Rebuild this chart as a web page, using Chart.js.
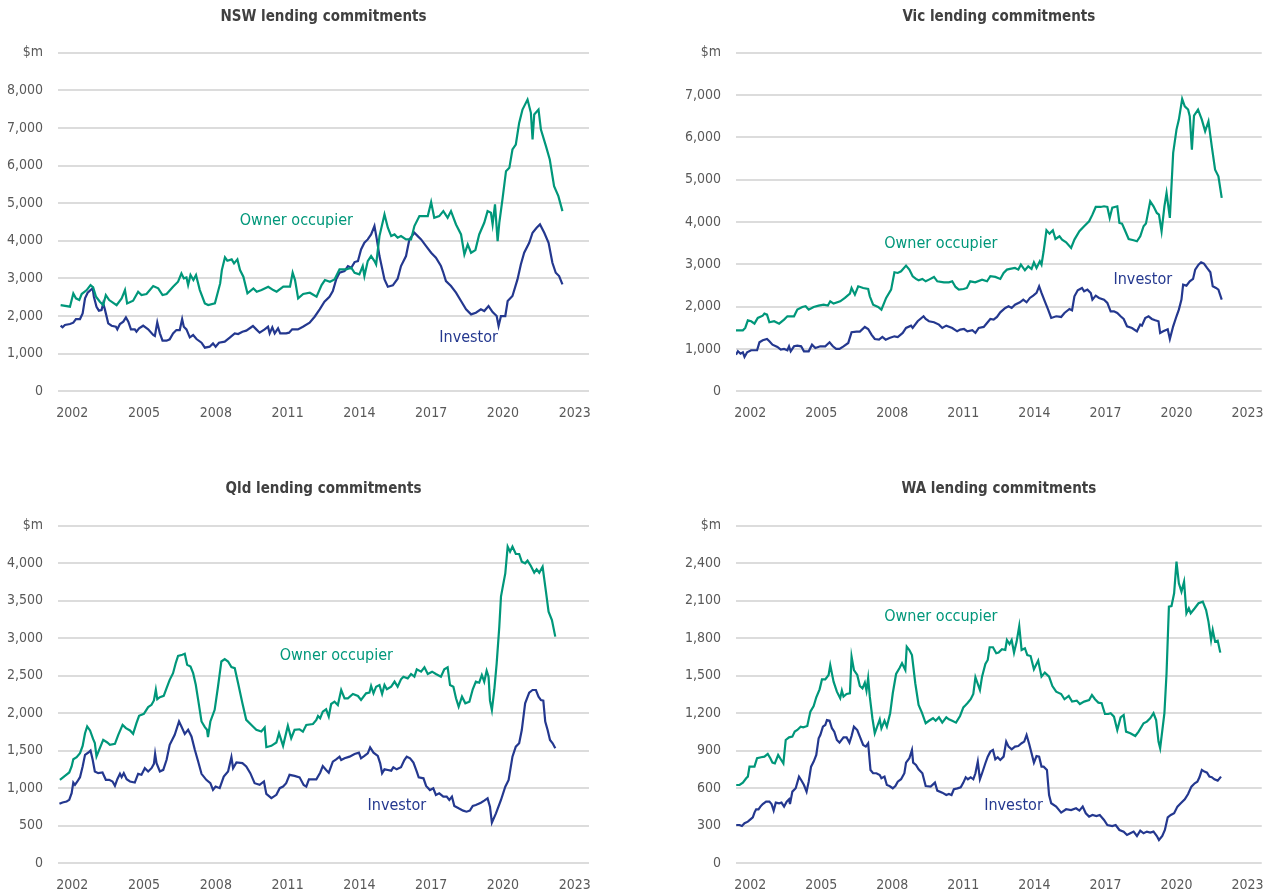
<!DOCTYPE html>
<html><head><meta charset="utf-8">
<script src="https://cdn.jsdelivr.net/npm/chart.js@4.4.0/dist/chart.umd.min.js"></script>
<style>
html,body{margin:0;padding:0;background:#fff;width:1278px;height:894px;overflow:hidden}
.box{position:absolute;width:639px;height:447px}
</style></head><body>
<div class="box" style="left:0;top:0"><canvas id="nsw"></canvas></div>
<div class="box" style="left:639px;top:0"><canvas id="vic"></canvas></div>
<div class="box" style="left:0;top:447px"><canvas id="qld"></canvas></div>
<div class="box" style="left:639px;top:447px"><canvas id="wa"></canvas></div>
<script>
const xTicks = [2002, 2005, 2008, 2011, 2014, 2017, 2020, 2023];

const nswOwnerYears = [2001.51,2001.90,2002.04,2002.15,2002.29,2002.39,2002.60,2002.76,2002.87,2002.99,2003.15,2003.29,2003.40,2003.54,2003.85,2004.06,2004.20,2004.29,2004.54,2004.75,2004.89,2005.10,2005.38,2005.59,2005.77,2005.94,2006.21,2006.42,2006.56,2006.66,2006.77,2006.84,2006.94,2007.06,2007.17,2007.33,2007.54,2007.68,2007.96,2008.18,2008.25,2008.38,2008.48,2008.66,2008.76,2008.90,2009.01,2009.15,2009.32,2009.57,2009.71,2009.91,2010.19,2010.40,2010.54,2010.82,2011.10,2011.21,2011.31,2011.44,2011.65,2011.93,2012.21,2012.42,2012.56,2012.77,2012.96,2013.17,2013.45,2013.66,2013.80,2014.00,2014.14,2014.21,2014.35,2014.49,2014.63,2014.70,2014.84,2015.05,2015.19,2015.33,2015.47,2015.60,2015.74,2015.95,2016.16,2016.30,2016.51,2016.72,2016.86,2017.00,2017.13,2017.34,2017.51,2017.69,2017.83,2018.04,2018.25,2018.39,2018.53,2018.67,2018.85,2019.01,2019.22,2019.36,2019.50,2019.57,2019.67,2019.78,2019.85,2019.99,2020.13,2020.27,2020.40,2020.54,2020.68,2020.82,2021.03,2021.17,2021.24,2021.31,2021.49,2021.59,2021.80,2021.96,2022.14,2022.32,2022.49];
const nswOwnerValues = [2292,2248,2600,2470,2425,2585,2690,2823,2760,2513,2380,2290,2557,2425,2290,2470,2690,2336,2407,2646,2557,2585,2797,2735,2557,2585,2779,2912,3133,3000,3027,2823,3089,2956,3089,2690,2336,2292,2336,2867,3221,3558,3469,3505,3398,3505,3221,3044,2602,2735,2646,2690,2779,2690,2646,2779,2779,3150,2956,2470,2585,2620,2513,2823,2956,2912,2974,3239,3239,3283,3150,3106,3328,3062,3460,3593,3460,3372,4124,4699,4345,4124,4168,4080,4124,4036,4036,4390,4655,4655,4655,5027,4611,4655,4788,4611,4788,4434,4168,3637,3903,3681,3752,4168,4478,4788,4743,4434,4965,3991,4478,5142,5850,5938,6425,6558,7133,7487,7753,7399,6690,7355,7487,6956,6514,6160,5452,5186,4788];

const nswInvestorYears = [2001.51,2001.59,2001.69,2001.90,2002.04,2002.15,2002.32,2002.43,2002.53,2002.64,2002.76,2002.85,2002.90,2003.01,2003.11,2003.22,2003.29,2003.36,2003.50,2003.64,2003.82,2003.88,2003.99,2004.13,2004.24,2004.34,2004.45,2004.61,2004.68,2004.79,2004.96,2005.17,2005.38,2005.45,2005.55,2005.66,2005.77,2005.94,2006.07,2006.21,2006.35,2006.49,2006.59,2006.66,2006.77,2006.91,2007.05,2007.19,2007.40,2007.54,2007.74,2007.88,2007.99,2008.13,2008.37,2008.58,2008.79,2008.93,2009.11,2009.27,2009.55,2009.69,2009.83,2010.04,2010.18,2010.25,2010.36,2010.46,2010.60,2010.69,2010.94,2011.06,2011.19,2011.43,2011.64,2011.92,2012.13,2012.34,2012.54,2012.75,2012.89,2013.03,2013.17,2013.38,2013.52,2013.66,2013.80,2013.94,2014.07,2014.21,2014.35,2014.49,2014.63,2014.73,2014.84,2015.05,2015.19,2015.40,2015.60,2015.74,2015.95,2016.09,2016.30,2016.44,2016.58,2016.79,2017.00,2017.20,2017.41,2017.51,2017.62,2017.83,2018.04,2018.25,2018.46,2018.67,2018.87,2019.08,2019.22,2019.40,2019.57,2019.74,2019.82,2019.92,2020.10,2020.20,2020.40,2020.61,2020.75,2020.89,2021.10,2021.24,2021.41,2021.55,2021.73,2021.91,2022.07,2022.21,2022.35,2022.49];
const nswInvestorValues = [1743,1699,1761,1788,1823,1920,1920,2071,2469,2620,2690,2735,2513,2248,2142,2159,2336,2177,1805,1743,1717,1646,1788,1850,1965,1850,1646,1646,1584,1673,1743,1646,1496,1469,1832,1540,1345,1345,1381,1540,1628,1628,1920,1717,1646,1434,1496,1389,1292,1159,1186,1274,1186,1292,1319,1425,1540,1522,1584,1611,1735,1646,1558,1646,1717,1540,1699,1540,1673,1540,1540,1558,1646,1646,1717,1823,1982,2177,2380,2513,2664,2974,3150,3195,3328,3283,3434,3460,3770,3947,4036,4168,4390,4036,3593,2974,2779,2814,2991,3328,3593,4036,4213,4124,4036,3858,3681,3549,3328,3150,2929,2797,2620,2398,2177,2044,2089,2177,2133,2266,2106,2000,1735,2000,2000,2398,2531,2974,3372,3681,3947,4213,4345,4434,4213,3947,3416,3150,3062,2841];

const vicOwnerYears = [2001.40,2001.69,2001.79,2001.90,2002.04,2002.18,2002.32,2002.53,2002.60,2002.71,2002.81,2003.01,2003.22,2003.43,2003.57,2003.85,2003.99,2004.20,2004.34,2004.47,2004.68,2004.89,2005.10,2005.28,2005.38,2005.52,2005.80,2006.00,2006.21,2006.28,2006.42,2006.56,2006.77,2006.98,2007.05,2007.19,2007.40,2007.54,2007.74,2007.95,2008.09,2008.23,2008.37,2008.58,2008.72,2008.86,2009.00,2009.11,2009.27,2009.41,2009.55,2009.76,2009.90,2010.18,2010.39,2010.53,2010.67,2010.81,2011.01,2011.15,2011.29,2011.50,2011.79,2012.00,2012.14,2012.35,2012.56,2012.70,2012.84,2012.97,2013.18,2013.32,2013.43,2013.60,2013.74,2013.88,2013.98,2014.09,2014.23,2014.30,2014.39,2014.51,2014.64,2014.78,2014.89,2015.06,2015.17,2015.34,2015.55,2015.69,2015.90,2016.10,2016.31,2016.45,2016.59,2016.80,2016.94,2017.08,2017.18,2017.29,2017.50,2017.59,2017.70,2017.84,2017.98,2018.19,2018.33,2018.47,2018.61,2018.71,2018.89,2019.03,2019.17,2019.26,2019.37,2019.49,2019.58,2019.72,2019.86,2020.00,2020.10,2020.24,2020.35,2020.49,2020.56,2020.65,2020.74,2020.91,2021.07,2021.21,2021.35,2021.49,2021.63,2021.77,2021.91];
const vicOwnerValues = [1441,1441,1496,1677,1654,1598,1732,1787,1835,1811,1630,1654,1598,1693,1772,1772,1929,1992,2008,1929,1992,2024,2047,2024,2126,2071,2126,2205,2307,2441,2283,2480,2441,2417,2244,2047,1992,1929,2205,2402,2811,2795,2835,2969,2874,2717,2654,2622,2654,2598,2638,2701,2598,2575,2575,2598,2465,2402,2417,2441,2598,2575,2638,2598,2717,2701,2654,2795,2874,2890,2913,2874,2992,2858,2953,2890,3047,2913,3071,2992,3307,3803,3724,3803,3598,3661,3583,3520,3386,3583,3780,3898,4016,4173,4354,4354,4370,4354,4094,4339,4370,3976,3961,3780,3598,3567,3543,3661,3898,3961,4488,4370,4213,4173,3780,4370,4685,4094,5630,6181,6417,6906,6732,6654,6496,5709,6512,6654,6417,6142,6378,5787,5236,5079,4567];

const vicInvestorYears = [2001.40,2001.48,2001.59,2001.69,2001.76,2001.87,2002.04,2002.29,2002.39,2002.53,2002.71,2002.81,2002.94,2003.15,2003.29,2003.43,2003.57,2003.64,2003.71,2003.85,2003.99,2004.15,2004.27,2004.47,2004.61,2004.75,2004.96,2005.17,2005.35,2005.49,2005.63,2005.77,2005.94,2006.14,2006.28,2006.49,2006.63,2006.84,2006.98,2007.12,2007.26,2007.44,2007.58,2007.72,2007.88,2008.09,2008.23,2008.44,2008.58,2008.79,2008.86,2009.07,2009.32,2009.41,2009.55,2009.76,2009.97,2010.11,2010.28,2010.53,2010.74,2010.87,2011.03,2011.17,2011.38,2011.51,2011.65,2011.86,2012.00,2012.14,2012.28,2012.42,2012.56,2012.77,2012.91,2013.04,2013.18,2013.39,2013.53,2013.67,2013.81,2013.95,2014.09,2014.20,2014.30,2014.44,2014.58,2014.71,2014.92,2015.13,2015.27,2015.48,2015.59,2015.69,2015.83,2016.01,2016.10,2016.24,2016.38,2016.45,2016.59,2016.73,2016.94,2017.08,2017.22,2017.36,2017.50,2017.64,2017.77,2017.91,2018.12,2018.33,2018.47,2018.54,2018.68,2018.82,2018.96,2019.10,2019.24,2019.31,2019.44,2019.63,2019.72,2019.86,2020.00,2020.10,2020.21,2020.28,2020.42,2020.56,2020.70,2020.79,2020.93,2021.04,2021.16,2021.29,2021.43,2021.53,2021.67,2021.77,2021.91];
const vicInvestorValues = [866,945,890,921,811,921,969,969,1157,1205,1236,1181,1102,1047,984,1000,969,1063,945,1063,1079,1063,945,945,1102,1024,1063,1063,1157,1063,1000,1000,1063,1142,1394,1409,1409,1520,1472,1339,1236,1220,1283,1220,1260,1299,1283,1378,1496,1551,1496,1654,1772,1709,1654,1630,1575,1496,1551,1496,1417,1457,1472,1417,1441,1378,1496,1520,1614,1709,1693,1756,1866,1969,2008,1969,2047,2102,2165,2102,2205,2260,2323,2480,2323,2126,1929,1732,1772,1756,1850,1945,1913,2244,2386,2441,2362,2402,2323,2165,2260,2205,2165,2087,1890,1890,1850,1772,1709,1535,1496,1417,1575,1551,1732,1772,1709,1677,1654,1378,1417,1465,1236,1535,1772,1929,2165,2520,2496,2598,2654,2874,2992,3047,3016,2913,2811,2480,2441,2402,2165];

const qldOwnerYears = [2001.48,2001.69,2001.87,2001.97,2002.04,2002.18,2002.32,2002.43,2002.53,2002.62,2002.74,2002.87,2002.94,2003.01,2003.15,2003.29,2003.46,2003.57,2003.78,2003.92,2004.10,2004.24,2004.41,2004.54,2004.68,2004.79,2004.99,2005.17,2005.31,2005.41,2005.49,2005.55,2005.66,2005.82,2005.94,2006.07,2006.21,2006.32,2006.42,2006.60,2006.70,2006.80,2006.94,2007.05,2007.16,2007.26,2007.40,2007.54,2007.63,2007.67,2007.77,2007.95,2008.09,2008.23,2008.37,2008.51,2008.65,2008.79,2008.93,2009.11,2009.27,2009.55,2009.69,2009.90,2010.04,2010.11,2010.32,2010.53,2010.64,2010.81,2011.01,2011.15,2011.29,2011.50,2011.64,2011.78,2012.06,2012.20,2012.27,2012.36,2012.47,2012.61,2012.72,2012.82,2012.96,2013.10,2013.24,2013.38,2013.52,2013.73,2013.94,2014.07,2014.28,2014.42,2014.49,2014.59,2014.70,2014.84,2014.95,2015.05,2015.15,2015.33,2015.47,2015.60,2015.74,2015.84,2016.02,2016.16,2016.30,2016.40,2016.58,2016.72,2016.86,2017.04,2017.20,2017.41,2017.55,2017.69,2017.79,2017.93,2018.04,2018.15,2018.29,2018.43,2018.60,2018.74,2018.87,2019.01,2019.12,2019.22,2019.32,2019.40,2019.46,2019.54,2019.64,2019.74,2019.85,2019.92,2019.99,2020.10,2020.20,2020.30,2020.40,2020.54,2020.68,2020.79,2020.93,2021.03,2021.17,2021.31,2021.41,2021.52,2021.66,2021.80,2021.91,2022.05,2022.19];
const qldOwnerValues = [1109,1162,1207,1287,1384,1411,1464,1562,1731,1820,1767,1651,1598,1420,1531,1642,1607,1576,1589,1709,1842,1798,1767,1722,1864,1962,1989,2078,2109,2167,2309,2184,2211,2229,2331,2442,2531,2664,2762,2776,2789,2642,2620,2531,2376,2176,1887,1811,1776,1678,1887,2042,2353,2687,2718,2687,2611,2598,2398,2131,1909,1820,1776,1753,1807,1544,1562,1607,1731,1562,1829,1664,1776,1783,1751,1840,1853,1907,1960,1929,2018,2049,1951,2120,2151,2107,2307,2196,2196,2253,2227,2173,2262,2271,2360,2262,2351,2373,2253,2373,2316,2351,2418,2351,2449,2484,2462,2520,2484,2582,2551,2609,2520,2551,2520,2484,2582,2609,2373,2351,2196,2084,2218,2129,2151,2316,2418,2404,2507,2418,2564,2484,2165,2040,2307,2662,3151,3551,3675,3862,4218,4151,4218,4120,4120,4018,3996,4031,3960,3871,3916,3871,3951,3618,3351,3240,3018];

const qldInvestorYears = [2001.46,2001.59,2001.76,2001.87,2001.97,2002.04,2002.11,2002.21,2002.32,2002.43,2002.53,2002.67,2002.76,2002.85,2002.94,2003.08,2003.26,2003.40,2003.54,2003.68,2003.78,2003.88,2003.99,2004.06,2004.15,2004.27,2004.41,2004.61,2004.75,2004.89,2005.03,2005.17,2005.31,2005.41,2005.46,2005.52,2005.66,2005.80,2005.94,2006.07,2006.28,2006.46,2006.56,2006.70,2006.84,2006.98,2007.12,2007.26,2007.40,2007.60,2007.77,2007.88,2007.99,2008.16,2008.33,2008.51,2008.65,2008.72,2008.86,2009.11,2009.27,2009.44,2009.62,2009.83,2010.01,2010.11,2010.32,2010.53,2010.67,2010.81,2010.94,2011.08,2011.29,2011.50,2011.67,2011.78,2011.89,2012.20,2012.36,2012.47,2012.61,2012.72,2012.89,2013.03,2013.17,2013.24,2013.38,2013.59,2013.80,2013.98,2014.07,2014.21,2014.35,2014.45,2014.59,2014.77,2014.87,2014.95,2015.05,2015.19,2015.33,2015.42,2015.56,2015.74,2015.88,2015.98,2016.12,2016.26,2016.40,2016.48,2016.68,2016.79,2016.95,2017.09,2017.20,2017.34,2017.51,2017.65,2017.76,2017.87,2017.97,2018.15,2018.34,2018.48,2018.62,2018.74,2018.87,2019.08,2019.22,2019.36,2019.46,2019.54,2019.71,2019.92,2020.10,2020.24,2020.40,2020.54,2020.68,2020.79,2020.93,2021.10,2021.24,2021.38,2021.49,2021.59,2021.69,2021.77,2021.87,2021.97,2022.08,2022.19];
const qldInvestorValues = [789,807,820,842,931,1073,1042,1087,1144,1287,1442,1473,1500,1376,1220,1198,1207,1109,1109,1087,1029,1118,1189,1144,1198,1118,1087,1073,1189,1176,1264,1220,1264,1322,1456,1331,1220,1242,1376,1576,1709,1887,1820,1722,1776,1687,1509,1353,1189,1109,1064,976,1020,998,1153,1220,1411,1264,1340,1331,1287,1198,1064,1042,1087,922,864,909,998,1020,1064,1176,1162,1142,1040,1018,1116,1116,1204,1293,1240,1204,1351,1382,1418,1373,1396,1418,1453,1471,1396,1427,1462,1542,1471,1427,1329,1196,1249,1240,1231,1276,1249,1276,1373,1418,1396,1338,1218,1142,1129,1027,973,996,907,929,885,885,840,885,760,729,698,684,698,760,773,804,831,862,751,538,662,840,1018,1107,1418,1551,1596,1773,2129,2271,2307,2307,2218,2173,2165,1885,1773,1640,1596,1529];

const waOwnerYears = [2001.41,2001.55,2001.69,2001.83,2001.90,2001.97,2002.18,2002.29,2002.46,2002.60,2002.74,2002.85,2002.94,2003.04,2003.18,2003.29,2003.40,2003.50,2003.64,2003.78,2003.88,2003.99,2004.13,2004.24,2004.41,2004.54,2004.68,2004.79,2004.93,2005.03,2005.17,2005.31,2005.38,2005.52,2005.66,2005.80,2005.87,2005.94,2006.07,2006.21,2006.28,2006.38,2006.52,2006.63,2006.74,2006.84,2006.91,2006.98,2007.05,2007.16,2007.26,2007.40,2007.47,2007.54,2007.67,2007.77,2007.91,2008.02,2008.16,2008.30,2008.41,2008.55,2008.61,2008.72,2008.83,2008.97,2009.11,2009.25,2009.41,2009.55,2009.72,2009.83,2009.97,2010.11,2010.28,2010.39,2010.53,2010.69,2010.86,2011.00,2011.10,2011.17,2011.31,2011.42,2011.51,2011.70,2011.79,2011.93,2012.03,2012.11,2012.25,2012.39,2012.49,2012.63,2012.77,2012.84,2012.95,2013.04,2013.14,2013.25,2013.36,2013.46,2013.60,2013.70,2013.84,2013.98,2014.16,2014.30,2014.44,2014.62,2014.76,2014.92,2015.13,2015.27,2015.45,2015.59,2015.79,2015.92,2016.10,2016.31,2016.43,2016.56,2016.70,2016.84,2016.98,2017.12,2017.22,2017.36,2017.50,2017.64,2017.77,2017.87,2018.05,2018.26,2018.40,2018.61,2018.75,2018.89,2019.03,2019.14,2019.24,2019.31,2019.49,2019.58,2019.68,2019.79,2019.90,2020.00,2020.10,2020.21,2020.32,2020.42,2020.52,2020.60,2020.77,2020.93,2021.11,2021.25,2021.35,2021.46,2021.53,2021.63,2021.74,2021.85];
const waOwnerValues = [624,624,643,678,691,771,771,838,846,851,872,838,803,797,864,830,797,984,1005,1011,1051,1064,1091,1085,1096,1211,1256,1326,1389,1469,1469,1504,1584,1451,1371,1318,1379,1331,1352,1358,1651,1544,1504,1416,1397,1443,1379,1478,1331,1158,1038,1112,1149,1077,1138,1091,1198,1358,1512,1558,1598,1544,1731,1704,1664,1438,1264,1203,1118,1138,1158,1138,1165,1123,1165,1149,1138,1123,1176,1245,1264,1278,1310,1352,1486,1384,1491,1592,1624,1726,1726,1678,1683,1710,1704,1784,1752,1784,1683,1771,1896,1704,1718,1664,1656,1550,1619,1491,1523,1491,1416,1371,1352,1310,1336,1291,1299,1272,1291,1304,1344,1310,1283,1278,1192,1192,1198,1171,1064,1165,1184,1051,1038,1016,1051,1118,1131,1158,1198,1144,971,918,1198,1518,2051,2056,2158,2411,2238,2171,2251,1998,2038,1998,2038,2078,2091,2024,1931,1784,1864,1771,1779,1683];

const waInvestorYears = [2001.41,2001.55,2001.65,2001.76,2001.90,2002.01,2002.11,2002.18,2002.25,2002.35,2002.43,2002.53,2002.67,2002.81,2002.90,2002.99,2003.08,2003.22,2003.32,2003.43,2003.54,2003.64,2003.68,2003.78,2003.92,2004.06,2004.15,2004.27,2004.38,2004.47,2004.57,2004.68,2004.79,2004.89,2004.96,2005.07,2005.17,2005.24,2005.35,2005.45,2005.55,2005.66,2005.77,2005.94,2006.07,2006.19,2006.28,2006.38,2006.52,2006.63,2006.77,2006.88,2006.98,2007.08,2007.19,2007.33,2007.47,2007.54,2007.67,2007.77,2007.88,2008.02,2008.13,2008.23,2008.37,2008.51,2008.58,2008.72,2008.83,2008.88,2009.00,2009.11,2009.27,2009.41,2009.62,2009.80,2009.90,2010.11,2010.28,2010.39,2010.50,2010.60,2010.75,2010.89,2011.00,2011.10,2011.19,2011.31,2011.42,2011.51,2011.61,2011.70,2011.79,2011.93,2012.03,2012.14,2012.25,2012.35,2012.45,2012.56,2012.70,2012.81,2012.91,2013.04,2013.18,2013.32,2013.46,2013.57,2013.67,2013.78,2013.88,2013.98,2014.09,2014.20,2014.30,2014.39,2014.53,2014.62,2014.71,2014.92,2015.13,2015.34,2015.55,2015.76,2015.90,2016.04,2016.17,2016.31,2016.45,2016.62,2016.76,2016.94,2017.08,2017.29,2017.43,2017.59,2017.77,2017.91,2018.05,2018.19,2018.33,2018.47,2018.61,2018.75,2018.89,2019.03,2019.17,2019.26,2019.40,2019.51,2019.63,2019.76,2019.90,2020.04,2020.18,2020.35,2020.49,2020.63,2020.77,2020.88,2020.97,2021.07,2021.18,2021.29,2021.39,2021.49,2021.60,2021.74,2021.88];
const waInvestorValues = [304,304,296,318,331,349,365,403,429,429,451,472,491,491,472,419,483,478,483,451,491,510,472,571,598,691,664,624,571,651,771,811,864,998,1024,1091,1104,1144,1138,1078,1051,984,963,1005,1005,963,1016,1091,1064,1011,944,931,958,744,718,718,704,678,691,624,616,598,616,651,670,718,803,838,904,803,784,750,718,616,611,643,579,563,544,552,544,590,597,605,643,686,670,686,670,718,811,670,718,798,851,891,904,830,846,824,851,971,931,910,931,936,958,971,1024,952,878,803,856,851,771,771,744,544,478,451,403,430,424,438,419,451,398,371,384,376,384,344,304,296,304,264,251,224,238,251,216,259,238,251,243,251,216,184,216,264,365,384,398,451,478,510,552,611,638,651,686,744,731,723,691,686,670,659,691];

const GREEN = '#00977A';
const BLUE = '#24388F';
const NARROW = "'Liberation Sans Narrow', 'Arial Narrow', 'DejaVu Sans Condensed', 'Liberation Sans', sans-serif";
Chart.defaults.font.family = NARROW;

function pairs(xs, ys) { return xs.map((x, i) => ({ x: x, y: ys[i] })); }

const seriesLabelPlugin = {
  id: 'seriesLabels',
  afterDatasetsDraw(chart, args, opts) {
    const ctx = chart.ctx, xs = chart.scales.x, ys = chart.scales.y;
    ctx.save();
    ctx.font = opts.font;
    ctx.textBaseline = 'middle';
    ctx.textAlign = 'left';
    (opts.items || []).forEach(it => {
      ctx.fillStyle = it.color;
      ctx.fillText(it.text, xs.getPixelForValue(it.x), ys.getPixelForValue(it.y));
    });
    ctx.restore();
  }
};

function makeChart(id, title, yMax, yStep, ownerYears, ownerValues, invYears, invValues, labelItems, side, row) {
  const yWidth = side === 'left' ? 58 : 97;
  const padRight = side === 'left' ? 50 : 11;
  const titlePad = row === 0 ? { top: 8, bottom: 26.6 } : { top: 33, bottom: 27.5 };
  const xHeight = row === 0 ? 55.7 : 31;
  return new Chart(document.getElementById(id), {
    type: 'line',
    data: {
      datasets: [
        { label: 'Owner occupier', data: pairs(ownerYears, ownerValues), borderColor: GREEN, borderWidth: 2.2, pointRadius: 0, tension: 0, fill: false },
        { label: 'Investor', data: pairs(invYears, invValues), borderColor: BLUE, borderWidth: 2.2, pointRadius: 0, tension: 0, fill: false }
      ]
    },
    options: {
      responsive: true,
      maintainAspectRatio: false,
      devicePixelRatio: 1,
      animation: false,
      events: [],
      layout: { padding: { left: 0, right: padRight, top: 0, bottom: 0 } },
      plugins: {
        legend: { display: false },
        tooltip: { enabled: false },
        title: {
          display: true, text: title, fullSize: false,
          color: '#404040',
          font: { family: NARROW, size: 15, weight: 'bold' },
          padding: titlePad
        },
        seriesLabels: { font: "16px " + NARROW, items: labelItems }
      },
      scales: {
        x: {
          type: 'linear', min: 2001.4, max: 2023.6,
          grid: { display: false, drawTicks: false },
          border: { display: false },
          afterBuildTicks: (s) => { s.ticks = xTicks.map(v => ({ value: v })); },
          afterFit: (s) => { s.height = xHeight; },
          ticks: { autoSkip: false, maxRotation: 0, padding: 14, color: '#595959', font: { size: 14 }, callback: (v) => String(v) }
        },
        y: {
          min: 0, max: yMax,
          grid: { color: '#DCDCDC', lineWidth: 2, drawTicks: false },
          border: { display: false },
          afterFit: (s) => { s.width = yWidth; },
          ticks: { stepSize: yStep, padding: 15, color: '#595959', font: { size: 14 },
            callback: (v) => v === yMax ? '$m' : Number(v).toLocaleString('en-US') }
        }
      }
    },
    plugins: [seriesLabelPlugin]
  });
}

makeChart('nsw', 'NSW lending commitments', 9000, 1000, nswOwnerYears, nswOwnerValues, nswInvestorYears, nswInvestorValues,
  [{ text: 'Owner occupier', x: 2009.0, y: 4526, color: GREEN }, { text: 'Investor', x: 2017.34, y: 1416, color: BLUE }], 'left', 0);
makeChart('vic', 'Vic lending commitments', 8000, 1000, vicOwnerYears, vicOwnerValues, vicInvestorYears, vicInvestorValues,
  [{ text: 'Owner occupier', x: 2007.66, y: 3489, color: GREEN }, { text: 'Investor', x: 2017.34, y: 2639, color: BLUE }], 'right', 0);
makeChart('qld', 'Qld lending commitments', 4500, 500, qldOwnerYears, qldOwnerValues, qldInvestorYears, qldInvestorValues,
  [{ text: 'Owner occupier', x: 2010.67, y: 2760, color: GREEN }, { text: 'Investor', x: 2014.34, y: 760, color: BLUE }], 'left', 1);
makeChart('wa', 'WA lending commitments', 2700, 300, waOwnerYears, waOwnerValues, waInvestorYears, waInvestorValues,
  [{ text: 'Owner occupier', x: 2007.66, y: 1968, color: GREEN }, { text: 'Investor', x: 2011.88, y: 456, color: BLUE }], 'right', 1);
</script>
</body></html>
